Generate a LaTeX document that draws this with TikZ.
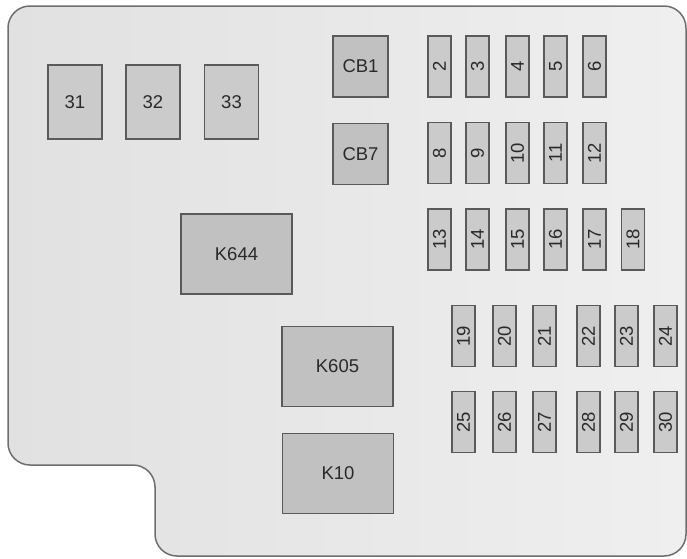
\documentclass[tikz,border=0pt]{standalone}
\usepackage{fontspec}
\setmainfont{Liberation Sans}
\usepackage{xcolor}
\definecolor{PanelL}{HTML}{E1E1E1}
\definecolor{PanelR}{HTML}{EFEFEF}
\definecolor{Edge}{HTML}{6E6E6E}
\definecolor{BoxLine}{HTML}{5A5A5A}
\definecolor{FuseFill}{HTML}{CBCBCB}
\definecolor{RelayFill}{HTML}{C1C1C1}
\definecolor{Ink}{HTML}{2A2A2A}

\begin{document}
\begin{tikzpicture}[x=1pt, y=-1pt,
    part/.style={draw=BoxLine, line width=1.4pt, inner sep=0pt, text=Ink,
      font=\fontsize{18.5}{21}\selectfont},
    minifuse/.style={part, fill=FuseFill, rotate=90,
      minimum width=61pt, minimum height=23pt},
    maxifuse/.style={part, fill=FuseFill, minimum width=54pt, minimum height=74pt},
    breaker/.style={part, fill=RelayFill, minimum width=55pt, minimum height=61pt},
    relay/.style={part, fill=RelayFill, minimum width=111pt, minimum height=80pt}]
  \useasboundingbox (0,0) rectangle (687,558);

  % panel outline with the notch at lower left
  \draw[Edge, line width=1.5pt, rounded corners=22pt, left color=PanelL, right color=PanelR]
    (8,6) -- (686,6) -- (686,556) -- (155,556) -- (155,465) -- (8,465) -- cycle;

  % large fuses
  \node[maxifuse] (f31) at (75,102) {31};
  \node[maxifuse] (f32) at (153,102) {32};
  \node[maxifuse] (f33) at (231.5,102) {33};

  % circuit breakers
  \node[breaker] (cb1) at (360.5,66.5) {CB1};
  \node[breaker] (cb7) at (360.5,154) {CB7};

  % relays
  \node[relay] (k644) at (236.5,254) {K644};
  \node[relay] (k605) at (337.5,366.5) {K605};
  \node[relay] (k10) at (338,473.5) {K10};

  % mini fuses
  \foreach \n/\x in {2/439.5, 3/477.5, 4/517.5, 5/555.5, 6/594.5}
    \node[minifuse] (f\n) at (\x,66.5) {\n};
  \foreach \n/\x in {8/439.5, 9/477.5, 10/517.5, 11/555.5, 12/594.5}
    \node[minifuse] (f\n) at (\x,153) {\n};
  \foreach \n/\x in {13/439.5, 14/477.5, 15/517.5, 16/555.5, 17/594.5, 18/633}
    \node[minifuse] (f\n) at (\x,239.5) {\n};
  \foreach \n/\x in {19/463.5, 20/504.5, 21/544.5, 22/588.5, 23/626.5, 24/665.5}
    \node[minifuse] (f\n) at (\x,336) {\n};
  \foreach \n/\x in {25/463.5, 26/504.5, 27/544.5, 28/588.5, 29/626.5, 30/665.5}
    \node[minifuse] (f\n) at (\x,422) {\n};
\end{tikzpicture}
\end{document}
